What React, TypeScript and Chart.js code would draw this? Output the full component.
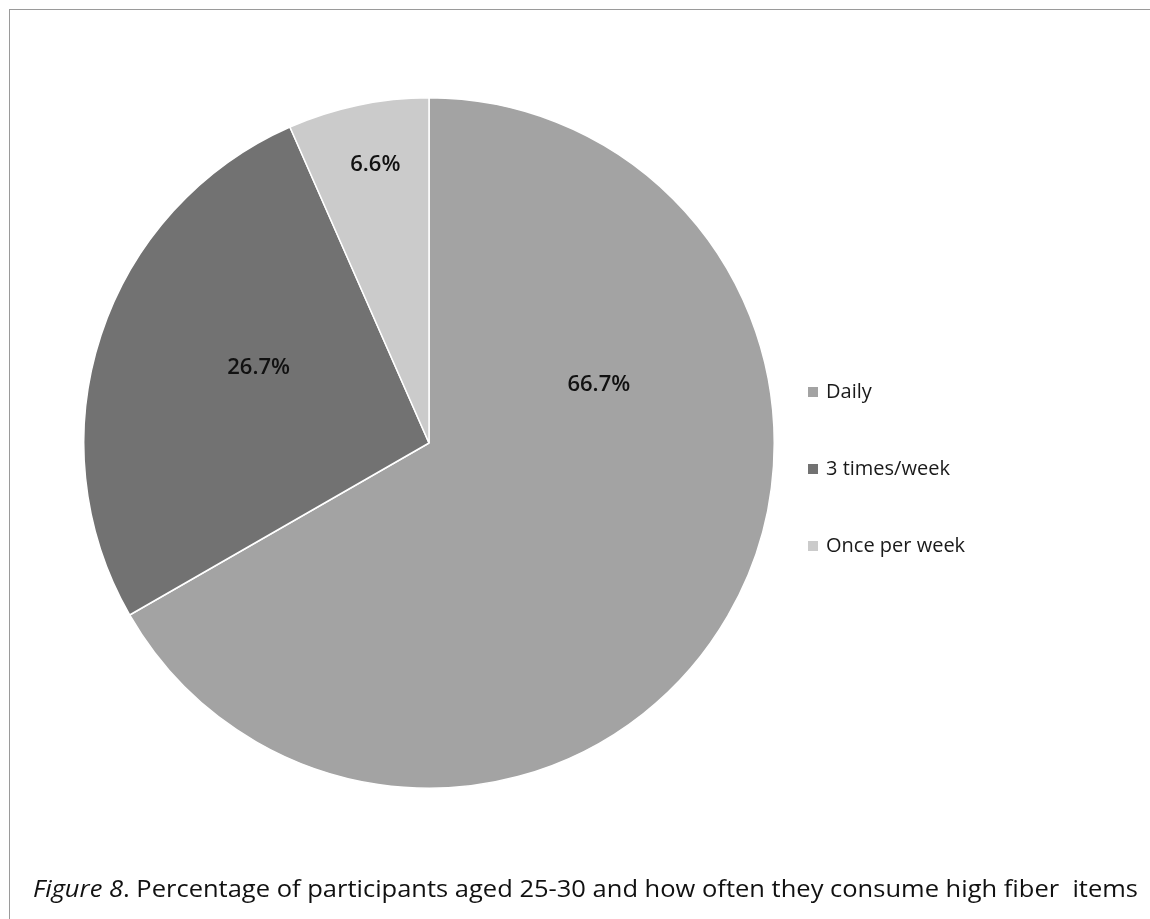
import React, { useEffect, useRef } from "react";
import { Chart, registerables } from "chart.js";

Chart.register(...registerables);

// Survey shares: how often participants aged 25-30 eat high fiber items
const categories = ["Daily", "3 times/week", "Once per week"];
const shares = [66.7, 26.7, 6.6];
const sliceColors = ["#a3a3a3", "#727272", "#cbcbcb"];

const captionLead = "Figure 8";
const captionRest = ". Percentage of participants aged 25-30 and how often they consume high fiber  items";

const FONT = "'Open Sans', 'DejaVu Sans', sans-serif";

// Where each percentage sits inside its slice: fraction along the sweep and fraction of the radius
const labelAnchors = [
  { sweep: 0.296, radius: 0.52 },
  { sweep: 0.56, radius: 0.54 },
  { sweep: 0.54, radius: 0.82 },
];

const sliceLabels = {
  id: "sliceLabels",
  afterDatasetsDraw(chart: any) {
    const ctx = chart.ctx;
    const meta = chart.getDatasetMeta(0);
    const values = chart.data.datasets[0].data as number[];
    ctx.save();
    ctx.font = `600 22px ${FONT}`;
    ctx.fillStyle = "#111";
    ctx.textAlign = "center";
    ctx.textBaseline = "middle";
    meta.data.forEach((arc: any, i: number) => {
      const p = arc.getProps(["x", "y", "startAngle", "endAngle", "outerRadius"], true);
      const a = labelAnchors[i] || { sweep: 0.5, radius: 0.6 };
      const ang = p.startAngle + a.sweep * (p.endAngle - p.startAngle);
      const r = p.outerRadius * a.radius;
      ctx.fillText(`${values[i].toFixed(1)}%`, p.x + Math.cos(ang) * r, p.y + Math.sin(ang) * r);
    });
    ctx.restore();
  },
};

const sideLegend = {
  id: "sideLegend",
  afterDraw(chart: any) {
    const ctx = chart.ctx;
    const labels = chart.data.labels as string[];
    const colors = chart.data.datasets[0].backgroundColor as string[];
    const boxX = 808;
    const textX = 826;
    const firstY = 392;
    const step = 77;
    ctx.save();
    ctx.font = `20px ${FONT}`;
    ctx.textBaseline = "middle";
    ctx.textAlign = "left";
    labels.forEach((lab, i) => {
      const y = firstY + i * step;
      ctx.fillStyle = colors[i];
      ctx.fillRect(boxX, y - 5, 10, 10);
      ctx.fillStyle = "#1a1a1a";
      ctx.fillText(lab, textX, y);
    });
    ctx.restore();
  },
};

const captionLine = {
  id: "captionLine",
  afterDraw(chart: any) {
    const ctx = chart.ctx;
    const left = 33;
    const right = 1138;
    const baseline = 897;
    ctx.save();
    const italic = `italic 23px ${FONT}`;
    const normal = `23px ${FONT}`;
    ctx.font = italic;
    const w1 = ctx.measureText(captionLead).width;
    ctx.font = normal;
    const w2 = ctx.measureText(captionRest).width;
    const scale = (right - left) / (w1 + w2);
    ctx.translate(left, baseline);
    ctx.scale(scale, 1);
    ctx.fillStyle = "#111";
    ctx.textBaseline = "alphabetic";
    ctx.textAlign = "left";
    ctx.font = italic;
    ctx.fillText(captionLead, 0, 0);
    ctx.font = normal;
    ctx.fillText(captionRest, w1, 0);
    ctx.restore();
  },
};

export default function App() {
  const canvasRef = useRef<HTMLCanvasElement | null>(null);

  useEffect(() => {
    if (!canvasRef.current) return;
    const chart = new Chart(canvasRef.current, {
      type: "pie",
      data: {
        labels: categories,
        datasets: [
          {
            data: shares,
            backgroundColor: sliceColors,
            borderColor: "#ffffff",
            borderWidth: 1.5,
          },
        ],
      },
      options: {
        responsive: false,
        animation: false,
        layout: { padding: { left: 83, top: 97, right: 375, bottom: 130 } },
        plugins: {
          legend: { display: false },
          tooltip: { enabled: false },
        },
      },
      plugins: [sliceLabels, sideLegend, captionLine],
    });
    return () => chart.destroy();
  }, []);

  return (
    <div
      style={{
        position: "fixed",
        left: 0,
        top: 0,
        width: 1150,
        height: 919,
        background: "#fff",
        overflow: "hidden",
      }}
    >
      <div
        style={{
          position: "absolute",
          left: 9,
          top: 9,
          width: 1200,
          height: 1000,
          borderTop: "1px solid #9a9a9a",
          borderLeft: "1px solid #9a9a9a",
        }}
      />
      <canvas
        ref={canvasRef}
        width={1150}
        height={919}
        style={{ position: "absolute", left: 0, top: 0, width: 1150, height: 919 }}
      />
    </div>
  );
}
